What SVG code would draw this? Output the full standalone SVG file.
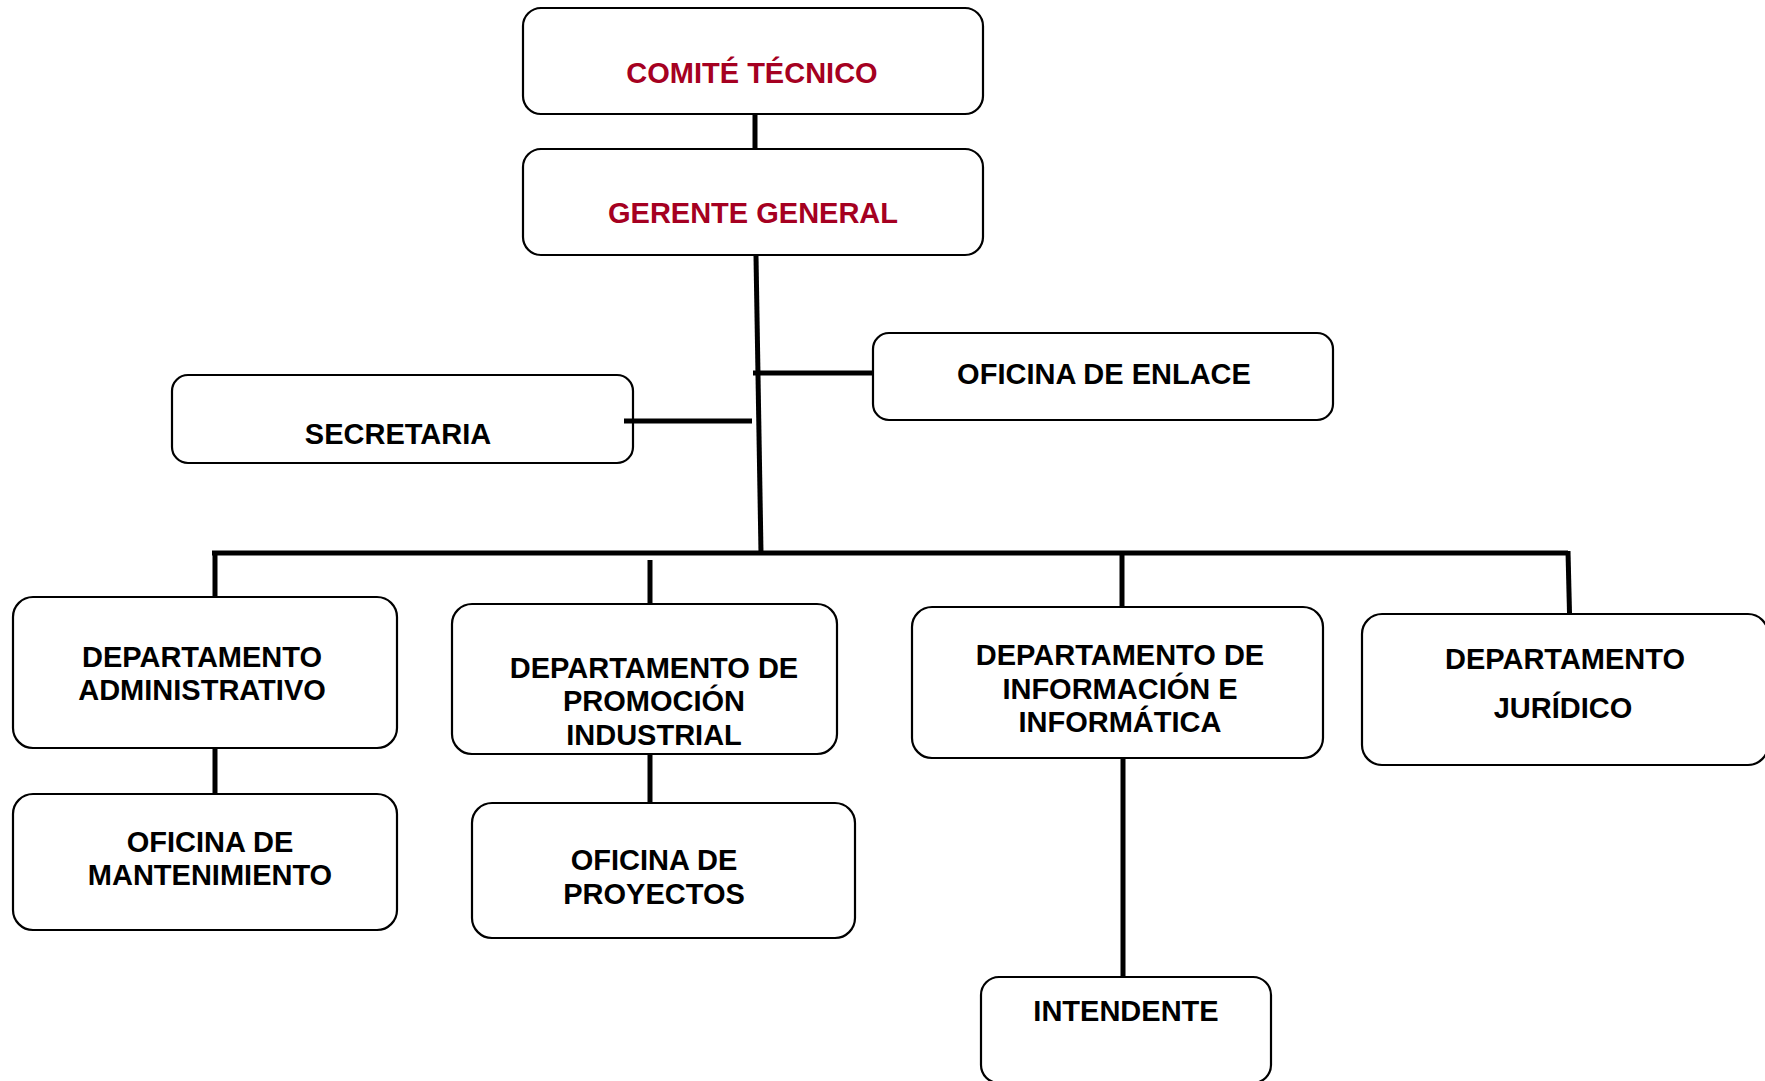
<svg xmlns="http://www.w3.org/2000/svg" width="1765" height="1081" viewBox="0 0 1765 1081">
<style>
.box{fill:#fff;stroke:#000;stroke-width:2.2}
.t{font-family:"Liberation Sans",Arial,sans-serif;font-weight:bold;font-size:29px;fill:#000;text-anchor:middle}
.r{fill:#A50021}
.c{stroke:#000;stroke-width:5;fill:none}
</style>
<rect width="1765" height="1081" fill="#fff"/>
<g id="comite">
<rect class="box" x="523" y="8" width="460" height="106" rx="18"/>
<text class="t r" x="752" y="83">COMITÉ TÉCNICO</text>
</g>
<g id="gerente">
<rect class="box" x="523" y="149" width="460" height="106" rx="18"/>
<text class="t r" x="753" y="223">GERENTE GENERAL</text>
</g>
<g id="enlace">
<rect class="box" x="873" y="333" width="460" height="87" rx="16"/>
<text class="t" x="1104" y="384">OFICINA DE ENLACE</text>
</g>
<g id="secretaria">
<rect class="box" x="172" y="375" width="461" height="88" rx="16"/>
<text class="t" x="398" y="444">SECRETARIA</text>
</g>
<g id="dep-admin">
<rect class="box" x="13" y="597" width="384" height="151" rx="20"/>
<text class="t" x="202" y="667">DEPARTAMENTO</text>
<text class="t" x="202" y="700">ADMINISTRATIVO</text>
</g>
<g id="of-mant">
<rect class="box" x="13" y="794" width="384" height="136" rx="20"/>
<text class="t" x="210" y="852">OFICINA DE</text>
<text class="t" x="210" y="885">MANTENIMIENTO</text>
</g>
<g id="dep-prom">
<rect class="box" x="452" y="604" width="385" height="150" rx="20"/>
<text class="t" x="654" y="678">DEPARTAMENTO DE</text>
<text class="t" x="654" y="711">PROMOCIÓN</text>
<text class="t" x="654" y="745">INDUSTRIAL</text>
</g>
<g id="of-proy">
<rect class="box" x="472" y="803" width="383" height="135" rx="20"/>
<text class="t" x="654" y="870">OFICINA DE</text>
<text class="t" x="654" y="904">PROYECTOS</text>
</g>
<g id="dep-info">
<rect class="box" x="912" y="607" width="411" height="151" rx="20"/>
<text class="t" x="1120" y="665">DEPARTAMENTO DE</text>
<text class="t" x="1120" y="699">INFORMACIÓN E</text>
<text class="t" x="1120" y="732">INFORMÁTICA</text>
</g>
<g id="dep-jur">
<rect class="box" x="1362" y="614" width="406" height="151" rx="20"/>
<text class="t" x="1565" y="669">DEPARTAMENTO</text>
<text class="t" x="1563" y="718">JURÍDICO</text>
</g>
<g id="intendente">
<rect class="box" x="981" y="977" width="290" height="106" rx="18"/>
<text class="t" x="1126" y="1021">INTENDENTE</text>
</g>
<g id="connectors">
<line class="c" x1="755" y1="114" x2="755" y2="148"/>
<line class="c" x1="756" y1="256" x2="761" y2="553"/>
<line class="c" x1="753" y1="373" x2="872" y2="373"/>
<line class="c" x1="624" y1="421" x2="752" y2="421"/>
<line class="c" x1="212" y1="553" x2="1568" y2="553"/>
<line class="c" x1="215" y1="551" x2="215" y2="596"/>
<line class="c" x1="650" y1="560" x2="650" y2="603"/>
<line class="c" x1="1122" y1="553" x2="1122" y2="606"/>
<line class="c" x1="1568" y1="551" x2="1569.5" y2="613"/>
<line class="c" x1="215" y1="749" x2="215" y2="793"/>
<line class="c" x1="650" y1="755" x2="650" y2="802"/>
<line class="c" x1="1123" y1="759" x2="1123" y2="976"/>
</g>
</svg>
